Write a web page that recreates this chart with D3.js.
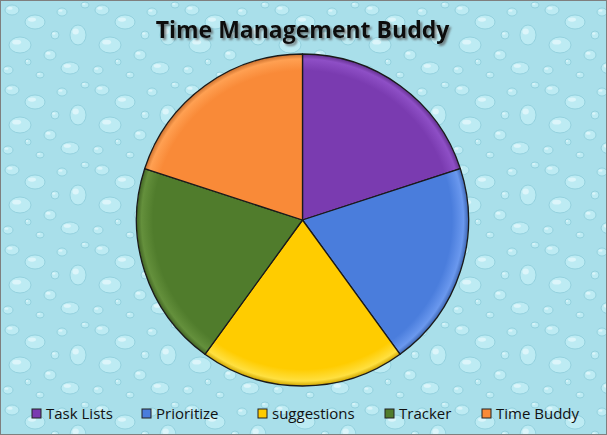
<!DOCTYPE html>
<html><head><meta charset="utf-8">
<script src="https://cdn.jsdelivr.net/npm/d3@7"></script>
<style>html,body{margin:0;padding:0;background:#fff;}svg{display:block;}</style>
</head><body>
<script>
const categories = ["Task Lists", "Prioritize", "suggestions", "Tracker", "Time Buddy"];
const values = [20, 20, 20, 20, 20];
const colors = ["#7A3BB0", "#4A7DDC", "#FFCC00", "#507C2C", "#F98A38"];
const lights = ["#8E4FC6", "#6A98EE", "#FFE040", "#64903C", "#FFA052"];
const title = "Time Management Buddy";

const W = 607, H = 435;
const svg = d3.select("body").append("svg").attr("width", W).attr("height", H);
const defs = svg.append("defs");

// droplet texture pattern
const pat = defs.append("pattern").attr("id","drops").attr("patternUnits","userSpaceOnUse")
  .attr("width",90).attr("height",80);
pat.append("rect").attr("width",90).attr("height",80).attr("fill","#A9DFEA");
const drops = [[12,10,7,5],[35,22,10,7],[62,12,5,4],[78,35,8,10],[20,45,11,8],[50,55,6,5],[70,68,9,6],[8,70,5,4],[40,75,4,3],[55,35,4,4],[85,5,4,3],[28,62,3,3]];
drops.forEach(d=>{
  pat.append("ellipse").attr("cx",d[0]).attr("cy",d[1]).attr("rx",d[2]).attr("ry",d[3])
    .attr("fill","#BDEBF3").attr("stroke","#8CCBD9").attr("stroke-width",0.8);
  pat.append("ellipse").attr("cx",d[0]-d[2]*0.3).attr("cy",d[1]-d[3]*0.35).attr("rx",d[2]*0.4).attr("ry",d[3]*0.3)
    .attr("fill","#E4F8FB").attr("opacity",0.8);
});

svg.append("rect").attr("x",0.5).attr("y",0.5).attr("width",W-1).attr("height",H-1)
  .attr("fill","url(#drops)").attr("stroke","#7f7f7f");

// title shadow filter
const f = defs.append("filter").attr("id","tshadow").attr("x","-10%").attr("y","-30%").attr("width","120%").attr("height","160%");
f.append("feDropShadow").attr("dx",2).attr("dy",2).attr("stdDeviation",0.8)
  .attr("flood-color","#555").attr("flood-opacity",0.7);

// gradients for slices
colors.forEach((c,i)=>{
  const g = defs.append("radialGradient").attr("id","g"+i)
    .attr("gradientUnits","userSpaceOnUse").attr("cx",0).attr("cy",0).attr("r",166);
  g.append("stop").attr("offset","0%").attr("stop-color",c);
  g.append("stop").attr("offset","90%").attr("stop-color",c);
  g.append("stop").attr("offset","97%").attr("stop-color",lights[i]);
  g.append("stop").attr("offset","100%").attr("stop-color",d3.color(c).darker(0.6));
});

const cx = 302.5, cy = 220, r = 166;
const pie = d3.pie().sort(null).value(d=>d)(values);
const arc = d3.arc().innerRadius(0).outerRadius(r);
const g = svg.append("g").attr("transform",`translate(${cx},${cy})`);
g.selectAll("path").data(pie).join("path")
  .attr("d",arc).attr("fill",(d,i)=>`url(#g${i})`)
  .attr("stroke","#1a1a1a").attr("stroke-width",1.3).attr("stroke-linejoin","round");

// title
svg.append("text").attr("x",cx).attr("y",38).attr("text-anchor","middle")
  .attr("font-family","'Open Sans', 'DejaVu Sans', sans-serif").attr("font-weight","bold")
  .attr("font-size",23).attr("fill","#111").attr("filter","url(#tshadow)").text(title);

// legend
const legX = [32, 142, 258, 385, 482];
const lg = svg.append("g");
categories.forEach((c,i)=>{
  lg.append("rect").attr("x",legX[i]).attr("y",409).attr("width",9).attr("height",9)
    .attr("fill",colors[i]).attr("stroke","#222").attr("stroke-width",1);
  lg.append("text").attr("x",legX[i]+14).attr("y",419).attr("font-family","'Open Sans', sans-serif")
    .attr("font-size",15).attr("fill","#111").text(c);
});
</script>
</body></html>
